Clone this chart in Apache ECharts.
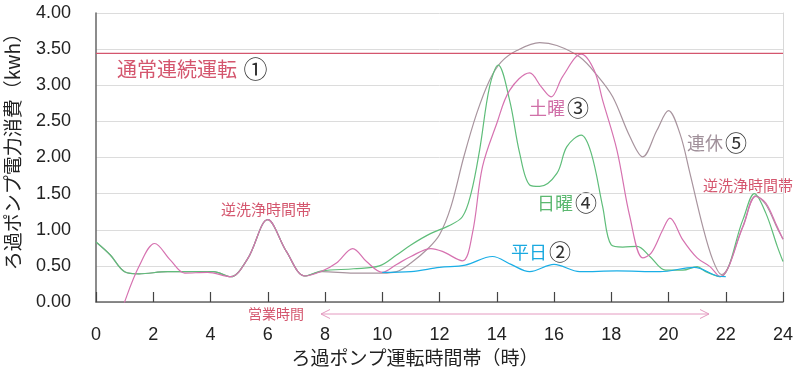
<!DOCTYPE html>
<html>
<head>
<meta charset="utf-8">
<script src="https://cdn.jsdelivr.net/npm/echarts@6/dist/echarts.min.js"></script>
<style>
html,body{margin:0;padding:0;background:#fff;}
#chart{width:800px;height:373px;}
</style>
</head>
<body>
<div id="chart"></div>
<script>
// ---- data (hour, kWh) ----
const xTicks = [0, 2, 4, 6, 8, 10, 12, 14, 16, 18, 20, 22, 24];
const yTicks = [0, 0.5, 1, 1.5, 2, 2.5, 3, 3.5, 4];
const continuous = [[0, 3.44], [24, 3.44]]; // 通常連続運転①
const weekday = [[10,0.41],[11,0.42],[12,0.48],[12.9,0.51],[13.85,0.63],[14.5,0.52],[15.15,0.42],[16.0,0.52],[16.9,0.42],[18.2,0.43],[19.7,0.42],[20.9,0.48],[21.7,0.36],[22.0,0.35]]; // 平日②
const saturday = [[0.5,-0.6],[1.0,0.0],[1.5,0.49],[2.05,0.81],[2.6,0.58],[3.1,0.40],[3.9,0.41],[4.7,0.35],[5.3,0.60],[6.0,1.14],[6.65,0.70],[7.3,0.36],[7.9,0.43],[8.4,0.54],[8.97,0.74],[9.45,0.56],[10.0,0.41],[10.5,0.52],[11.0,0.63],[11.7,0.74],[12.1,0.70],[12.8,0.57],[13.15,0.95],[13.5,1.87],[14.0,2.47],[14.45,2.93],[15.15,3.17],[15.55,2.98],[15.9,2.84],[16.3,3.12],[16.95,3.43],[17.4,3.21],[17.7,2.79],[18.2,2.10],[18.65,1.18],[19.1,0.61],[19.4,0.68],[19.8,1.0],[20.05,1.16],[20.5,0.86],[21.0,0.61],[21.45,0.49],[21.8,0.35],[22.6,1.04],[23.05,1.46],[23.4,1.37],[23.8,1.04],[24,0.87]]; // 土曜③
const sunday = [[0,0.83],[0.5,0.65],[1.0,0.42],[1.5,0.39],[2.5,0.42],[3.5,0.42],[4.1,0.42],[4.7,0.35],[5.3,0.60],[6.0,1.14],[6.65,0.70],[7.3,0.36],[7.9,0.43],[9.0,0.46],[9.9,0.50],[10.5,0.65],[11.0,0.79],[11.7,0.95],[12.3,1.05],[12.8,1.18],[13.1,1.5],[13.4,2.10],[13.75,2.98],[14.05,3.28],[14.45,2.79],[14.8,2.06],[15.15,1.62],[15.5,1.60],[16.1,1.78],[16.45,2.15],[16.95,2.31],[17.3,2.06],[17.7,1.32],[18.0,0.79],[18.4,0.76],[18.9,0.77],[19.35,0.63],[19.9,0.44],[20.5,0.44],[21.0,0.49],[21.3,0.42],[21.8,0.35],[22.6,1.14],[23.0,1.50],[23.4,1.23],[23.8,0.77],[24,0.56]]; // 日曜④
const holiday = [[0,0.83],[0.5,0.65],[1.0,0.42],[1.5,0.39],[2.5,0.42],[3.5,0.42],[4.1,0.42],[4.7,0.35],[5.3,0.60],[6.0,1.14],[6.65,0.70],[7.3,0.36],[7.9,0.42],[9.0,0.40],[10.0,0.40],[10.5,0.42],[11.0,0.54],[11.6,0.74],[12.0,0.93],[12.4,1.32],[12.85,2.01],[13.3,2.61],[13.75,3.07],[14.15,3.32],[14.7,3.48],[15.5,3.59],[16.1,3.55],[16.9,3.39],[17.5,3.14],[18.05,2.84],[18.65,2.29],[19.1,2.01],[19.6,2.38],[20.0,2.65],[20.4,2.33],[20.75,1.78],[21.2,1.04],[21.55,0.58],[21.85,0.38],[22.6,1.05],[23.05,1.47],[23.4,1.35],[23.8,1.02],[24,0.87]]; // 連休⑤

const chart = echarts.init(document.getElementById('chart'), null, {renderer:'canvas'});
const NUMFONT = '"Liberation Sans", Arial, sans-serif';
const JPFONT = '"Noto Sans CJK JP", sans-serif';
const RED = '#d4566e';

function lineSeries(name, data, color, z) {
  return {name, type:'line', data, smooth:0.35, showSymbol:false, symbol:'none', clip:true,
    lineStyle:{color, width:1.2}, z, silent:true, animation:false};
}

function circled(x, y, main, num, color, size) {
  return {type:'text', x, y, style:{
    text:'{a|' + main + '}{b|' + num + '}',
    rich:{a:{fill:color, fontFamily:JPFONT, fontSize:size}, b:{fill:'#333', fontFamily:JPFONT, fontSize:Math.round(size*1.2), padding:[0,0,0,2]}},
    verticalAlign:'middle'}};
}

chart.setOption({
  animation:false,
  backgroundColor:'#fff',
  grid:{left:96, right:17, top:13, bottom:71, containLabel:false},
  xAxis:{type:'value', min:0, max:24, interval:2,
    axisLine:{show:true, lineStyle:{color:'#666', width:1.5}},
    axisTick:{show:true, inside:true, length:10, lineStyle:{color:'#444', width:1.2}},
    axisLabel:{color:'#222', fontSize:18, fontFamily:NUMFONT, margin:24,
      formatter:v => xTicks.includes(v) ? String(v) : ''},
    splitLine:{show:false}},
  yAxis:[{type:'value', min:0, max:4, interval:0.5,
    axisLine:{show:true, lineStyle:{color:'#666', width:1.5}},
    axisTick:{show:false},
    axisLabel:{color:'#222', fontSize:18, fontFamily:NUMFONT, margin:25,
      formatter:v => yTicks.includes(v) ? v.toFixed(2) : ''},
    splitLine:{show:true, lineStyle:{color:'#dcdcdc', width:1}}},
    {type:'value', min:0, max:4, interval:0.5, position:'right',
    axisLine:{show:true, lineStyle:{color:'#d8d8d8', width:1}},
    axisTick:{show:false}, axisLabel:{show:false}, splitLine:{show:false}}],
  series:[
    lineSeries('連休⑤', holiday, '#a8949e', 2),
    lineSeries('日曜④', sunday, '#5fbd7a', 3),
    lineSeries('土曜③', saturday, '#d672b0', 4),
    lineSeries('平日②', weekday, '#1aaee6', 5),
    {name:'通常連続運転①', type:'line', data:continuous, showSymbol:false, symbol:'none',
      lineStyle:{color:RED, width:1.2}, z:6, silent:true}
  ],
  graphic:[
    circled(117, 69, '通常連続運転 ', '①', RED, 20),
    {type:'text', x:221, y:209, style:{text:'逆洗浄時間帯', fill:RED, fontFamily:JPFONT, fontSize:15, verticalAlign:'middle'}},
    {type:'text', x:703, y:185, style:{text:'逆洗浄時間帯', fill:RED, fontFamily:JPFONT, fontSize:15, verticalAlign:'middle'}},
    circled(529, 108, '土曜', '③', '#d070a8', 18),
    circled(687, 143, '連休', '⑤', '#a0909a', 18),
    circled(537, 203, '日曜', '④', '#5cb870', 18),
    circled(511, 252, '平日', '②', '#1aa9e0', 18),
    {type:'text', x:248, y:314, style:{text:'営業時間', fill:RED, fontFamily:JPFONT, fontSize:14, verticalAlign:'middle'}},
    {type:'polyline', shape:{points:[[321,314],[709,314]]}, style:{stroke:'#e49ac0', lineWidth:1, fill:null}},
    {type:'polyline', shape:{points:[[330,309.5],[321,314],[330,318.5]]}, style:{stroke:'#e49ac0', lineWidth:1, fill:null}},
    {type:'polyline', shape:{points:[[700,309.5],[709,314],[700,318.5]]}, style:{stroke:'#e49ac0', lineWidth:1, fill:null}},
    {type:'text', x:415, y:358, style:{text:'ろ過ポンプ運転時間帯（時）', fill:'#222', fontFamily:JPFONT, fontSize:19, align:'center', verticalAlign:'middle'}},
    {type:'text', x:13, y:147, rotation:Math.PI/2, style:{text:'ろ過ポンプ電力消費（kwh）', fill:'#222', fontFamily:JPFONT, fontSize:19, align:'center', verticalAlign:'middle'}}
  ]
});
</script>
</body>
</html>
